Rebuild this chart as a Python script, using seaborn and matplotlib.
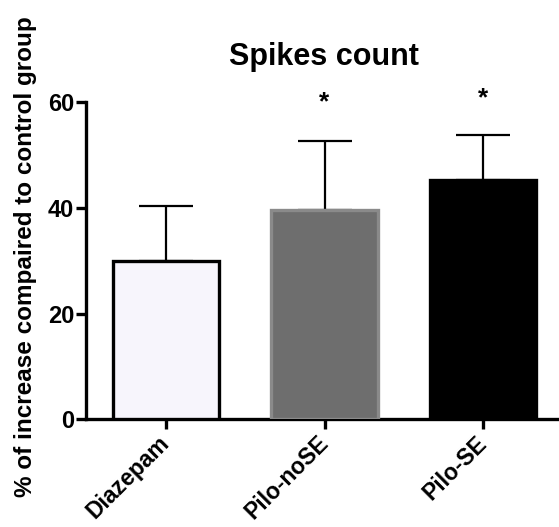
import matplotlib
matplotlib.use("Agg")
import matplotlib.pyplot as plt
import seaborn as sns
import pandas as pd

groups = ["Diazepam", "Pilo-noSE", "Pilo-SE"]
means = [30.0, 39.5, 45.3]
sem = [10.4, 13.0, 8.5]
significant = [False, True, True]
star_y = [None, 59.9, 60.6]
y_ticks = [0, 20, 40, 60]

fills = ["#f6f4fd", "#6e6e6e", "#000000"]
edges = ["#000000", "#8a8a8a", "#000000"]

sns.set_theme(style="white", rc={
    "text.color": "black", "axes.labelcolor": "black",
    "xtick.color": "black", "ytick.color": "black",
    "axes.edgecolor": "black",
})
plt.rcParams["font.family"] = ["Liberation Sans", "DejaVu Sans"]
plt.rcParams["font.weight"] = "bold"

df = pd.DataFrame({"group": groups, "mean": means})

fig = plt.figure(figsize=(5.59, 5.27), dpi=100)
ax = fig.add_axes([0.154, 0.204, 0.846, 0.603])

sns.barplot(data=df, x="group", y="mean", hue="group", palette=fills,
            legend=False, width=0.67, errorbar=None, ax=ax, zorder=3)
for patch, ec in zip(ax.patches, edges):
    patch.set_edgecolor(ec)
    patch.set_linewidth(2.4)

ax.errorbar(range(len(groups)), means, yerr=[[0] * len(sem), sem],
            fmt="none", ecolor="black", elinewidth=1.6, capsize=19.5,
            capthick=1.6, zorder=2)

for i, sig in enumerate(significant):
    if sig:
        ax.text(i, star_y[i], "*", ha="center", va="center", fontsize=19,
                fontweight="bold")

ax.set_xlim(-0.505, 2.48)
ax.set_ylim(0, 60)
ax.set_yticks(y_ticks)
ax.set_yticklabels([str(t) for t in y_ticks], fontsize=17, fontweight="bold")
ax.set_xticks(range(len(groups)))
ax.set_xticklabels(groups, rotation=45, ha="right", va="center",
                   rotation_mode="anchor", fontsize=16.5, fontweight="bold")
ax.set_xlabel("")
ax.set_ylabel("% of increase compaired to control group", fontsize=17.5,
              fontweight="bold")
ax.yaxis.set_label_coords(-0.104, 0.514)
ax.set_title("Spikes count", fontsize=22, fontweight="bold", pad=26.6,
             loc="center", x=0.503)

for side in ["top", "right"]:
    ax.spines[side].set_visible(False)
for side in ["left", "bottom"]:
    ax.spines[side].set_linewidth(2.4)
    ax.spines[side].set_color("black")
ax.tick_params(axis="both", which="major", direction="out", length=7.5,
               width=2.4, color="black", left=True, bottom=True)
ax.tick_params(axis="y", pad=1)
ax.tick_params(axis="x", pad=7)
ax.spines["left"].set_zorder(5)

fig.savefig("out.png", dpi=100, facecolor="white")
